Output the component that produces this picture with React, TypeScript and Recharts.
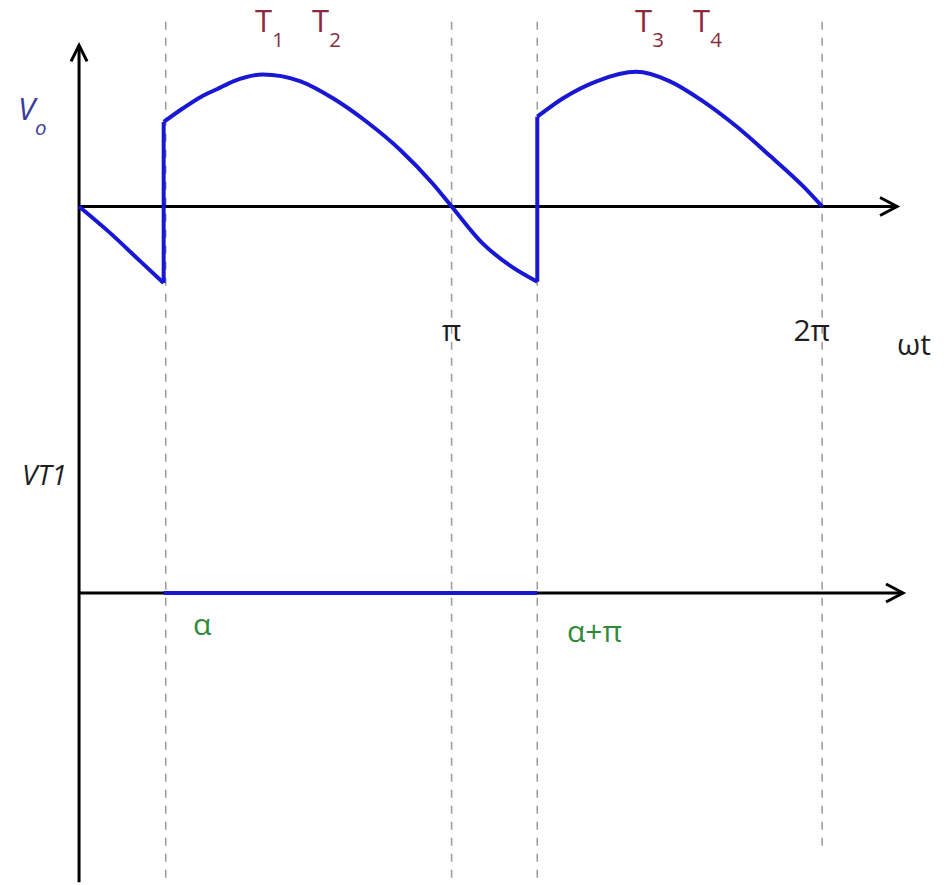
import { LineChart, Line, XAxis, YAxis, ReferenceLine, ReferenceDot } from 'recharts'

// output voltage Vo, one period of the supply (angles in degrees, values per unit of Vm)
const negDeg = [0, 15, 30, 41]
const negVo = [0, -0.2, -0.42, -0.58]
const humpADeg = [41, 50, 59, 67, 75, 89, 107, 123, 139.5, 155.5, 171.5, 180.5, 195.5, 209, 222]
const humpAVo = [0.64, 0.74, 0.83, 0.89, 0.95, 1.0, 0.95, 0.82, 0.64, 0.43, 0.17, 0, -0.28, -0.45, -0.57]
const humpBDeg = [222, 234.5, 251, 270, 286, 302, 319, 335, 351, 360]
const humpBVo = [0.68, 0.82, 0.95, 1.02, 0.95, 0.8, 0.6, 0.38, 0.15, 0]

// thyristor T1 voltage while it conducts
const vt1Deg = [41, 222]
const vt1Val = [0, 0]

// firing / crossing instants marked with dashed guides
const guideDeg = [42, 180.5, 222, 360]
const tickLabels = ['π', '2π']
const tickDeg = [180.5, 355]

const W = 947
const H = 885
const X_DOMAIN: [number, number] = [-38.3, 420.5]
const VO_DOMAIN: [number, number] = [-5.14, 1.564]
const VT_DOMAIN: [number, number] = [-2.212, 4.492]

const BLUE = '#1717d4'
const MAROON = '#8a2a3e'
const GREEN = '#2f8a3a'
const FONT = '"Open Sans", "Liberation Sans", sans-serif'

const zip = (xs: number[], ys: number[]) => xs.map((wt, i) => ({ wt, v: ys[i] }))

const negSeg = zip(negDeg, negVo)
const humpA = zip(humpADeg, humpAVo)
const humpB = zip(humpBDeg, humpBVo)
const jump1 = [negSeg[negSeg.length - 1], humpA[0]]
const jump2 = [humpA[humpA.length - 1], humpB[0]]
const vt1 = zip(vt1Deg, vt1Val)

const guideBottom = [-5.14, -5.14, -5.14, -4.85]

function tag(text: string, sub: string, color: string, opts: { italic?: boolean; size?: number; anchor?: string } = {}) {
  const size = opts.size ?? 30
  return (p: any) => (
    <text
      x={p.cx}
      y={p.cy}
      fill={color}
      fontFamily={FONT}
      fontSize={size}
      fontStyle={opts.italic ? 'italic' : 'normal'}
      textAnchor={opts.anchor ?? 'start'}
    >
      {text}
      {sub && (
        <tspan fontSize={size * 0.66} dy={size * 0.5}>
          {sub}
        </tspan>
      )}
    </text>
  )
}

const arrowRight = (p: any) => (
  <path d={`M${p.cx - 17},${p.cy - 9} L${p.cx},${p.cy} L${p.cx - 17},${p.cy + 9}`} fill="none" stroke="#000" strokeWidth={3} />
)
const arrowUp = (p: any) => (
  <path d={`M${p.cx - 8},${p.cy + 16} L${p.cx},${p.cy} L${p.cx + 8},${p.cy + 16}`} fill="none" stroke="#000" strokeWidth={3} />
)

export default function App() {
  const curve = {
    dataKey: 'v',
    stroke: BLUE,
    strokeWidth: 4,
    dot: false,
    activeDot: false,
    strokeLinecap: 'butt' as const,
    isAnimationActive: false,
    yAxisId: 'vo',
  }
  return (
    <div style={{ position: 'absolute', left: 0, top: 0, width: W, height: H, background: '#fff' }}>
      <LineChart width={W} height={H} margin={{ top: 0, right: 0, bottom: 0, left: 0 }}>
        <XAxis type="number" dataKey="wt" domain={X_DOMAIN} hide allowDataOverflow />
        <YAxis yAxisId="vo" type="number" domain={VO_DOMAIN} hide allowDataOverflow />
        <YAxis yAxisId="vt" type="number" domain={VT_DOMAIN} hide allowDataOverflow />

        {guideDeg.map((d, i) => (
          <ReferenceLine
            key={d}
            yAxisId="vo"
            segment={[{ x: d, y: 1.4 }, { x: d, y: guideBottom[i] }]}
            stroke="#9a9a9a"
            strokeWidth={1.5}
            strokeDasharray="8 8"
          />
        ))}

        {/* axes */}
        <ReferenceLine yAxisId="vo" segment={[{ x: 0, y: 1.22 }, { x: 0, y: -5.12 }]} stroke="#000" strokeWidth={3} />
        <ReferenceLine yAxisId="vo" segment={[{ x: 0, y: 0 }, { x: 396.3, y: 0 }]} stroke="#000" strokeWidth={3} />
        <ReferenceLine yAxisId="vt" segment={[{ x: 0, y: 0 }, { x: 399.2, y: 0 }]} stroke="#000" strokeWidth={3} />
        <ReferenceDot yAxisId="vo" x={0} y={1.22} r={0} shape={arrowUp} />
        <ReferenceDot yAxisId="vo" x={396.3} y={0} r={0} shape={arrowRight} />
        <ReferenceDot yAxisId="vt" x={399.2} y={0} r={0} shape={arrowRight} />

        <Line {...curve} data={negSeg} type="monotone" />
        <Line {...curve} data={jump1} type="linear" />
        <Line {...curve} data={humpA} type="monotone" />
        <Line {...curve} data={jump2} type="linear" />
        <Line {...curve} data={humpB} type="monotone" />
        <Line {...curve} data={vt1} yAxisId="vt" type="linear" />

        {/* labels */}
        <ReferenceDot yAxisId="vo" x={-29.6} y={0.655} r={0} shape={tag('V', 'o', '#3b3b9c', { italic: true, size: 31 })} />
        <ReferenceDot yAxisId="vo" x={85.3} y={1.322} r={0} shape={tag('T', '1', MAROON, { size: 31 })} />
        <ReferenceDot yAxisId="vo" x={112.9} y={1.322} r={0} shape={tag('T', '2', MAROON, { size: 31 })} />
        <ReferenceDot yAxisId="vo" x={269.4} y={1.322} r={0} shape={tag('T', '3', MAROON, { size: 31 })} />
        <ReferenceDot yAxisId="vo" x={297.5} y={1.322} r={0} shape={tag('T', '4', MAROON, { size: 31 })} />
        {tickLabels.map((t, i) => (
          <ReferenceDot key={t} yAxisId="vo" x={tickDeg[i]} y={-1.02} r={0} shape={tag(t, '', '#1e1e1e', { anchor: 'middle' })} />
        ))}
        <ReferenceDot yAxisId="vo" x={396.3} y={-1.125} r={0} shape={tag('ωt', '', '#1e1e1e')} />
        <ReferenceDot yAxisId="vt" x={-27.6} y={0.818} r={0} shape={tag('VT1', '', '#1e1e1e', { italic: true, size: 28 })} />
        <ReferenceDot yAxisId="vt" x={55.2} y={-0.318} r={0} shape={tag('α', '', GREEN)} />
        <ReferenceDot yAxisId="vt" x={236.4} y={-0.371} r={0} shape={tag('α+π', '', GREEN)} />
      </LineChart>
    </div>
  )
}
